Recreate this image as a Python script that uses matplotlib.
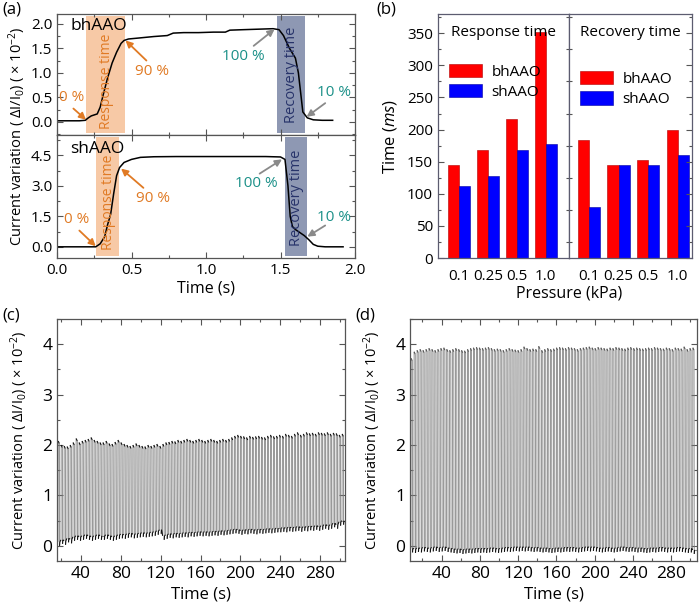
import numpy as np
import matplotlib
matplotlib.use("Agg")
import matplotlib.pyplot as plt
from matplotlib.ticker import MultipleLocator
from matplotlib.collections import LineCollection

plt.rcParams['font.family'] = ['Open Sans', 'DejaVu Sans']
plt.rcParams['font.size'] = 10
plt.rcParams['mathtext.fontset'] = 'custom'
plt.rcParams['mathtext.rm'] = 'Open Sans'
plt.rcParams['mathtext.it'] = 'Open Sans:italic'

# ---------------- data (a) ----------------
bh_t = [0.0, 0.05, 0.1, 0.15, 0.19, 0.21, 0.23, 0.25, 0.27, 0.29, 0.31, 0.34, 0.37, 0.40,
        0.43, 0.45, 0.48, 0.55, 0.65, 0.74, 0.78, 0.85, 0.95, 1.05, 1.13, 1.16, 1.25, 1.35,
        1.45, 1.49, 1.52, 1.56, 1.58, 1.60, 1.62, 1.635, 1.65, 1.68, 1.72, 1.78, 1.85]
bh_y = [0.02, 0.02, 0.02, 0.02, 0.03, 0.08, 0.12, 0.14, 0.16, 0.3, 0.55, 0.9, 1.2, 1.42,
        1.6, 1.66, 1.69, 1.71, 1.74, 1.76, 1.81, 1.82, 1.82, 1.83, 1.83, 1.87, 1.88, 1.89,
        1.9, 1.88, 1.76, 1.5, 1.4, 1.3, 1.0, 0.6, 0.2, 0.08, 0.04, 0.03, 0.03]

sh_t = [0.0, 0.1, 0.2, 0.26, 0.29, 0.32, 0.34, 0.36, 0.38, 0.40, 0.42, 0.45, 0.5, 0.56,
        0.65, 0.8, 1.0, 1.2, 1.4, 1.50, 1.53, 1.55, 1.565, 1.58, 1.6, 1.63, 1.66, 1.69,
        1.72, 1.75, 1.8, 1.92]
sh_y = [0.0, 0.0, 0.0, 0.0, 0.15, 0.5, 1.1, 1.6, 2.6, 3.5, 3.9, 4.15, 4.3, 4.4,
        4.43, 4.44, 4.44, 4.44, 4.44, 4.42, 4.3, 3.0, 1.5, 1.0, 0.85, 0.7, 0.55, 0.35,
        0.12, 0.03, 0.0, 0.0]

bh_resp = (0.195, 0.456)
bh_rec = (1.477, 1.664)
sh_resp = (0.26, 0.416)
sh_rec = (1.53, 1.68)

# ---------------- data (b) ----------------
pressures = ['0.1', '0.25', '0.5', '1.0']
resp_bh = [145, 168, 216, 352]
resp_sh = [112, 128, 168, 177]
rec_bh = [184, 145, 152, 200]
rec_sh = [80, 145, 145, 160]

# ---------------- data (c) cycles ----------------
c_start, c_period = 17.0, 3.0
c_peaks = [2.08, 2.0, 1.98, 1.97, 2.0,
           2.05, 2.13,
           2.05, 2.08, 2.1, 2.12, 2.15, 2.1, 2.08, 2.05,
           2.05, 2.08, 2.03, 2.02, 2.06, 2.1, 2.05, 2.02, 2.0, 1.98, 2.0, 2.03, 2.0, 1.98, 1.97, 2.0, 1.98, 2.0, 2.02, 1.98,
           2.02, 2.05, 2.06, 2.08, 2.07, 2.1, 2.08, 2.1, 2.12, 2.1, 2.08, 2.1, 2.12, 2.1, 2.08, 2.1, 2.12, 2.1, 2.08, 2.1, 2.12, 2.1, 2.12, 2.15,
           2.18, 2.2, 2.18, 2.17, 2.15, 2.18, 2.16, 2.17, 2.18, 2.16, 2.15, 2.18, 2.2, 2.17, 2.18,
           2.2, 2.18, 2.22, 2.2, 2.18, 2.22, 2.25, 2.2, 2.22, 2.25, 2.23, 2.24, 2.22, 2.25, 2.24, 2.23, 2.25, 2.22, 2.24, 2.23, 2.2, 2.22]
c_troughs = [0.08, 0.12, 0.1, 0.15, 0.13,
             0.18, 0.2,
             0.18, 0.2, 0.22, 0.2, 0.18, 0.2, 0.22, 0.2,
             0.2, 0.22, 0.2, 0.18, 0.2, 0.22, 0.23, 0.22, 0.24, 0.25, 0.23, 0.24, 0.25, 0.26, 0.25, 0.26, 0.27, 0.28, 0.3, 0.32,
             0.2, 0.22, 0.24, 0.23, 0.25, 0.24, 0.25, 0.26, 0.25, 0.27, 0.26, 0.27, 0.28, 0.27, 0.28, 0.27, 0.28, 0.29, 0.28, 0.3, 0.29, 0.3, 0.31, 0.32,
             0.33, 0.32, 0.3, 0.32, 0.31, 0.33, 0.32, 0.31, 0.33, 0.32, 0.33, 0.34, 0.33, 0.34, 0.35,
             0.35, 0.36, 0.35, 0.37, 0.36, 0.37, 0.38, 0.36, 0.38, 0.37, 0.39, 0.38, 0.4, 0.38, 0.4, 0.42, 0.4, 0.42, 0.45, 0.42, 0.48, 0.5]

# ---------------- data (d) cycles ----------------
d_start, d_period = 8.0, 3.1
d_peaks = [3.72, 3.85, 3.88, 3.9, 3.88, 3.9, 3.92, 3.9, 3.88, 3.9,
           3.92, 3.93, 3.9, 3.88, 3.9, 3.92, 3.9, 3.88, 3.87, 3.9,
           3.92, 3.93, 3.94, 3.93, 3.92, 3.93, 3.94, 3.92, 3.9, 3.91,
           3.9, 3.88, 3.9, 3.92, 3.9, 3.89, 3.88, 3.9, 3.95, 3.92,
           3.9, 3.91, 3.9, 3.96, 3.88, 3.9, 3.92, 3.9, 3.91, 3.93,
           3.94, 3.93, 3.92, 3.94, 3.93, 3.92, 3.9, 3.92, 3.93, 3.94,
           3.95, 3.93, 3.92, 3.94, 3.93, 3.92, 3.91, 3.93, 3.92, 3.94,
           3.93, 3.92, 3.91, 3.93, 3.94, 3.92, 3.93, 3.92, 3.91, 3.92,
           3.93, 3.92, 3.94, 3.93, 3.92, 3.91, 3.93, 3.92, 3.9, 3.93,
           3.92, 3.91, 3.95, 3.9, 3.92, 3.93]
d_troughs = [-0.05, -0.06, -0.04, -0.05, -0.03, -0.04, -0.05, -0.03, -0.02, -0.04,
             -0.03, -0.02, -0.04, -0.05, -0.06, -0.07, -0.06, -0.08, -0.07, -0.06,
             -0.07, -0.06, -0.05, -0.06, -0.05, -0.06, -0.05, -0.04, -0.05, -0.06,
             -0.05, -0.04, -0.03, -0.04, -0.03, -0.02, -0.03, -0.02, -0.03, -0.02,
             -0.03, -0.04, -0.03, -0.04, -0.05, -0.04, -0.05, -0.06, -0.05, -0.04,
             -0.05, -0.04, -0.03, -0.04, -0.03, -0.04, -0.05, -0.04, -0.03, -0.02,
             -0.03, -0.02, -0.03, -0.04, -0.05, -0.04, -0.03, -0.04, -0.05, -0.04,
             -0.03, -0.02, -0.03, -0.04, -0.03, -0.04, -0.05, -0.04, -0.05, -0.06,
             -0.05, -0.04, -0.05, -0.04, -0.03, -0.04, -0.05, -0.04, -0.05, -0.04,
             -0.03, -0.04, -0.05, -0.06, -0.05, -0.08]

# ---------------- figure ----------------
W, H = 700, 605
fig = plt.figure(figsize=(W / 100, H / 100), dpi=100)


def rect(x0, y0, x1, y1):
    return [x0 / W, 1 - y1 / H, (x1 - x0) / W, (y1 - y0) / H]


SPINE = '#555555'
ORANGE = '#e07a24'
TEAL = '#1b9088'
NAVY = '#27336a'
YLAB = r'Current variation ( $\Delta$I/I$_0$) ( × 10$^{-2}$)'


def style(ax, top=True, right=True, size=10.5):
    for s in ax.spines.values():
        s.set_color(SPINE)
        s.set_linewidth(0.9)
    ax.tick_params(which='both', direction='in', top=top, right=right, colors=SPINE,
                   labelcolor='black', labelsize=size)
    ax.tick_params(which='major', length=4, width=0.8)
    ax.tick_params(which='minor', length=2.5, width=0.8)


# ---- (a) ----
axa1 = fig.add_axes(rect(57, 14, 355, 135))
axa2 = fig.add_axes(rect(57, 135, 355, 258))
for ax in (axa1, axa2):
    style(ax, size=11)
    ax.set_xlim(0, 2.0)
    ax.xaxis.set_major_locator(MultipleLocator(0.5))
    ax.xaxis.set_minor_locator(MultipleLocator(0.25))
axa1.tick_params(labelbottom=False)

aro = dict(arrowstyle='-|>', color=ORANGE, lw=1.3, mutation_scale=10, shrinkA=0, shrinkB=0)
arg = dict(arrowstyle='-|>', color='#8a8a8a', lw=1.3, mutation_scale=10, shrinkA=0, shrinkB=0)
fs_ann = 11

axa1.set_ylim(-0.27, 2.2)
axa1.set_yticks([0.0, 0.5, 1.0, 1.5, 2.0])
axa1.set_yticklabels(['0.0', '0.5', '1.0', '1.5', '2.0'])
axa1.yaxis.set_minor_locator(MultipleLocator(0.25))
axa1.axvspan(*bh_resp, ymin=0.015, ymax=0.985, color='#f7c9a6', lw=0)
axa1.axvspan(*bh_rec, ymin=0.015, ymax=0.985, color='#8e98b3', lw=0)
axa1.text(sum(bh_resp) / 2 + 0.01, 0.82, 'Response time', rotation=90, ha='center', va='center',
          color=ORANGE, fontsize=10)
axa1.text(sum(bh_rec) / 2, 0.95, 'Recovery time', rotation=90, ha='center', va='center',
          color=NAVY, fontsize=10.5)
axa1.plot(bh_t, bh_y, color='black', lw=1.1)
axa1.text(0.09, 1.95, 'bhAAO', fontsize=12.5, va='center', ha='left')
axa1.text(0.1, 0.5, '0 %', color=ORANGE, fontsize=fs_ann, ha='center', va='center')
axa1.annotate('', xy=(0.195, 0.04), xytext=(0.11, 0.27), arrowprops=aro)
axa1.text(0.64, 1.02, '90 %', color=ORANGE, fontsize=fs_ann, ha='center', va='center')
axa1.annotate('', xy=(0.46, 1.66), xytext=(0.6, 1.25), arrowprops=aro)
axa1.text(1.25, 1.33, '100 %', color=TEAL, fontsize=fs_ann, ha='center', va='center')
axa1.annotate('', xy=(1.46, 1.89), xytext=(1.32, 1.55), arrowprops=arg)
axa1.text(1.86, 0.6, '10 %', color=TEAL, fontsize=fs_ann, ha='center', va='center')
axa1.annotate('', xy=(1.675, 0.1), xytext=(1.8, 0.38), arrowprops=arg)

axa2.set_ylim(-0.55, 5.5)
axa2.set_yticks([0.0, 1.5, 3.0, 4.5])
axa2.set_yticklabels(['0.0', '1.5', '3.0', '4.5'])
axa2.yaxis.set_minor_locator(MultipleLocator(0.75))
axa2.axvspan(*sh_resp, ymin=0.02, ymax=0.98, color='#f7c9a6', lw=0)
axa2.axvspan(*sh_rec, ymin=0.02, ymax=0.98, color='#8e98b3', lw=0)
axa2.text(sum(sh_resp) / 2 + 0.01, 2.2, 'Response time', rotation=90, ha='center', va='center',
          color=ORANGE, fontsize=10)
axa2.text(sum(sh_rec) / 2, 2.4, 'Recovery time', rotation=90, ha='center', va='center',
          color=NAVY, fontsize=10.5)
axa2.plot(sh_t, sh_y, color='black', lw=1.1)
axa2.text(0.09, 4.8, 'shAAO', fontsize=12.5, va='center', ha='left')
axa2.text(0.13, 1.35, '0 %', color=ORANGE, fontsize=fs_ann, ha='center', va='center')
axa2.annotate('', xy=(0.26, 0.03), xytext=(0.15, 0.8), arrowprops=aro)
axa2.text(0.645, 2.4, '90 %', color=ORANGE, fontsize=fs_ann, ha='center', va='center')
axa2.annotate('', xy=(0.43, 3.85), xytext=(0.58, 2.9), arrowprops=aro)
axa2.text(1.34, 3.1, '100 %', color=TEAL, fontsize=fs_ann, ha='center', va='center')
axa2.annotate('', xy=(1.51, 4.3), xytext=(1.36, 3.6), arrowprops=arg)
axa2.text(1.86, 1.45, '10 %', color=TEAL, fontsize=fs_ann, ha='center', va='center')
axa2.annotate('', xy=(1.68, 0.5), xytext=(1.8, 1.05), arrowprops=arg)
axa2.set_xticks([0.0, 0.5, 1.0, 1.5, 2.0])
axa2.set_xticklabels(['0.0', '0.5', '1.0', '1.5', '2.0'])
axa2.set_xlabel('Time (s)', fontsize=11.5, labelpad=2)
fig.text(17 / W, 1 - 136 / H, YLAB, rotation=90, ha='center', va='center', fontsize=10.5)

# ---- (b) ----
axb1 = fig.add_axes(rect(438, 14, 569, 258))
axb2 = fig.add_axes(rect(569, 14, 692, 258))
xpos = np.arange(len(pressures))
bw = 0.38
for ax, bh, sh, title, xl in ((axb1, resp_bh, resp_sh, 'Response time', (-0.72, 3.8)),
                              (axb2, rec_bh, rec_sh, 'Recovery time', (-0.68, 3.48))):
    style(ax, size=11)
    for s in ax.spines.values():
        s.set_color('#5c5c70')
    ax.bar(xpos - bw / 2, bh, width=bw, color='#ff0000', edgecolor='#b00000', lw=0.4, label='bhAAO')
    ax.bar(xpos + bw / 2, sh, width=bw, color='#0000ff', edgecolor='#0000a0', lw=0.4, label='shAAO')
    ax.set_xlim(*xl)
    ax.set_ylim(0, 380)
    ax.set_xticks(xpos)
    ax.set_xticklabels(pressures)
    ax.tick_params(axis='x', which='both', length=0)
    ax.tick_params(axis='x', pad=8)
    ax.yaxis.set_major_locator(MultipleLocator(50))
    ax.yaxis.set_minor_locator(MultipleLocator(25))
    ax.text(0.5, 0.955, title, transform=ax.transAxes, ha='center', va='top', fontsize=11)
axb1.tick_params(right=False)
axb2.tick_params(left=False, labelleft=False)
for ax, yy in ((axb1, 0.84), (axb2, 0.81)):
    ax.legend(loc='upper left', bbox_to_anchor=(0.0, yy), frameon=False, fontsize=11,
              handlelength=2.2, handleheight=0.95, handletextpad=0.6, labelspacing=0.3,
              borderaxespad=0.3)
axb1.set_ylabel('Time ($\\it{ms}$)', fontsize=12, labelpad=6)
fig.text(569 / W, 1 - 293 / H, 'Pressure (kPa)', ha='center', va='center', fontsize=11.5)


# ---- (c), (d) ----
def cycle_segments(start, period, peaks, troughs):
    """Per-cycle line pieces: vertical edges, tops and bottoms."""
    edges, tops, bottoms = [], [], []
    n = len(peaks)
    for i, (pk, tr) in enumerate(zip(peaks, troughs)):
        t0 = start + i * period
        nxt = troughs[i + 1] if i + 1 < n else tr
        p0 = (t0, tr)
        p1 = (t0 + 0.06 * period, pk)
        p2 = (t0 + 0.45 * period, pk - 0.05)
        p3 = (t0 + 0.52 * period, tr - 0.08)
        p4 = (t0 + 0.62 * period, tr)
        p5 = (t0 + period, nxt)
        edges += [[p0, p1], [p2, p3]]
        tops += [[p1, p2]]
        bottoms += [[p3, p4], [p4, p5]]
    return edges, tops, bottoms


axc = fig.add_axes(rect(57, 319, 345, 561))
axd = fig.add_axes(rect(410, 319, 697, 561))
for ax, args, xl, topc in ((axc, (c_start, c_period, c_peaks, c_troughs), (16, 305), '#111111'),
                           (axd, (d_start, d_period, d_peaks, d_troughs), (7, 307), '#555555')):
    style(ax, size=12.5)
    edges, tops, bottoms = cycle_segments(*args)
    ax.add_collection(LineCollection(edges, colors='#7a7a7a', linewidths=0.55))
    ax.add_collection(LineCollection(tops, colors=topc, linewidths=0.8))
    ax.add_collection(LineCollection(bottoms, colors='#111111', linewidths=0.8))
    ax.set_xlim(*xl)
    ax.set_ylim(-0.3, 4.5)
    ax.xaxis.set_major_locator(MultipleLocator(40))
    ax.xaxis.set_minor_locator(MultipleLocator(20))
    ax.yaxis.set_major_locator(MultipleLocator(1))
    ax.yaxis.set_minor_locator(MultipleLocator(0.5))
    ax.set_xlabel('Time (s)', fontsize=12, labelpad=3)
    ax.set_ylabel(YLAB, fontsize=10.5, labelpad=9)

# panel labels
for s, x, y in (('(a)', 2, 10), ('(b)', 376, 10), ('(c)', 2, 316), ('(d)', 355, 316)):
    fig.text(x / W, 1 - y / H, s, ha='left', va='center', fontsize=12)

fig.savefig('out.png', dpi=100)
